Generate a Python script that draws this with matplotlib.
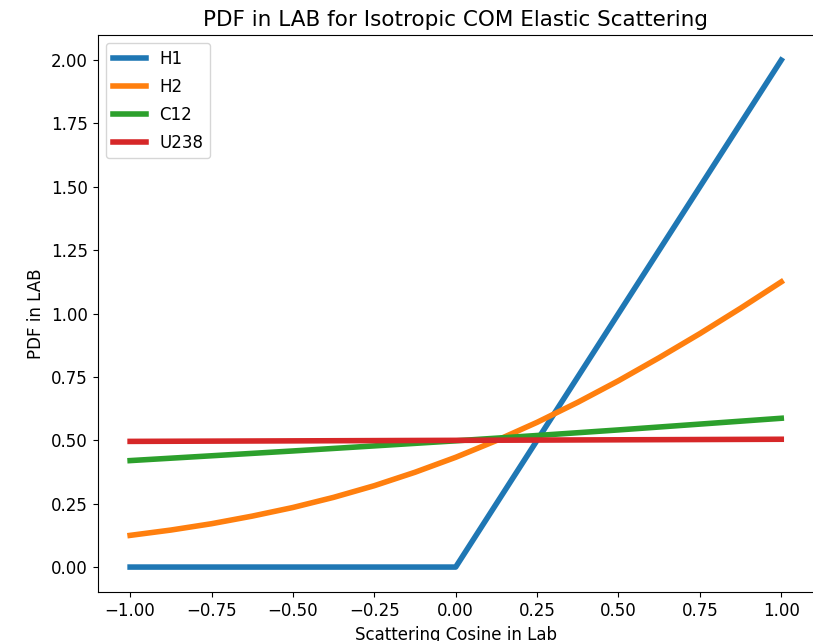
import matplotlib
matplotlib.use("Agg")
import matplotlib.pyplot as plt

mu_h1 = [-1.0, 0.0, 1.0]
pdf_h1 = [0.0, 0.0, 2.0]

mu_h2 = [-1.0, -0.875, -0.75, -0.625, -0.5, -0.375, -0.25, -0.125, 0.0,
         0.125, 0.25, 0.375, 0.5, 0.625, 0.75, 0.875, 1.0]
pdf_h2 = [0.125, 0.146, 0.171, 0.201, 0.235, 0.275, 0.321, 0.374, 0.433,
          0.499, 0.571, 0.650, 0.735, 0.826, 0.921, 1.021, 1.125]

mu_c12 = [-1.0, -0.75, -0.5, -0.25, 0.0, 0.25, 0.5, 0.75, 1.0]
pdf_c12 = [0.420, 0.439, 0.458, 0.478, 0.498, 0.519, 0.541, 0.564, 0.587]

mu_u238 = [-1.0, 0.0, 1.0]
pdf_u238 = [0.4958, 0.4999, 0.5042]

labels = ["H1", "H2", "C12", "U238"]
xticks = [-1.0, -0.75, -0.5, -0.25, 0.0, 0.25, 0.5, 0.75, 1.0]
yticks = [0.0, 0.25, 0.5, 0.75, 1.0, 1.25, 1.5, 1.75, 2.0]

fig = plt.figure(figsize=(8.13, 6.41), dpi=100)
ax = fig.add_axes([0.12, 0.0758, 0.881, 0.870])
ax.plot(mu_h1, pdf_h1, lw=4, label=labels[0])
ax.plot(mu_h2, pdf_h2, lw=4, label=labels[1])
ax.plot(mu_c12, pdf_c12, lw=4, label=labels[2])
ax.plot(mu_u238, pdf_u238, lw=4, label=labels[3])
ax.set_xticks(xticks)
ax.set_yticks(yticks)
ax.set_xticklabels([f"{v:.2f}".replace("-", "\u2212") for v in xticks])
ax.set_yticklabels([f"{v:.2f}" for v in yticks])
ax.tick_params(labelsize=12)
ax.set_title("PDF in LAB for Isotropic COM Elastic Scattering", fontsize=15.5)
ax.set_xlabel("Scattering Cosine in Lab", fontsize=12)
ax.set_ylabel("PDF in LAB", fontsize=12)
ax.legend(fontsize=12, loc="upper left", labelspacing=0.6)
fig.savefig("out.png", dpi=100)
